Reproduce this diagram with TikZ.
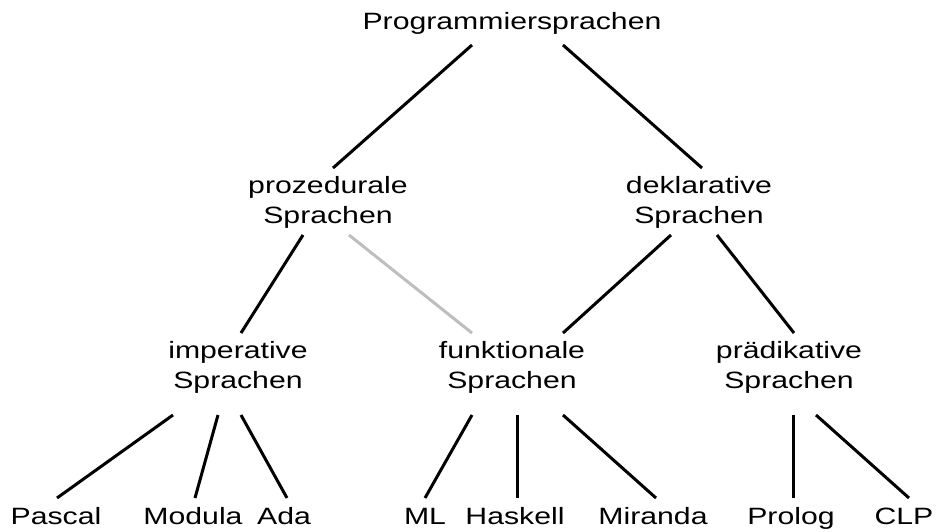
\documentclass[tikz,border=0pt]{standalone}
\usepackage{fontspec}
\setmainfont{Liberation Sans}[FakeStretch=1.28]
\begin{document}
\begin{tikzpicture}[x=1pt,y=-1pt,
  lbl/.style={inner sep=0pt,anchor=base,align=center,font=\fontsize{23.6}{29.5}\selectfont},
  edge/.style={line width=3pt,black},
  weak/.style={line width=3pt,color={rgb,255:red,190;green,190;blue,190}}]
\useasboundingbox (0,0) rectangle (938,531);
\node[lbl] (prog) at (512,29) {Programmiersprachen};
\node[lbl] (proz) at (328,223) {prozedurale\\Sprachen};
\node[lbl] (dekl) at (699,223) {deklarative\\Sprachen};
\node[lbl] (imp) at (238,388) {imperative\\Sprachen};
\node[lbl] (funk) at (512,388) {funktionale\\Sprachen};
\node[lbl] (praed) at (789,388) {prädikative\\Sprachen};
\node[lbl] (pascal) at (56,524) {Pascal};
\node[lbl] (modula) at (193,524) {Modula};
\node[lbl] (ada) at (284,524) {Ada};
\node[lbl] (ml) at (425,524) {ML};
\node[lbl] (haskell) at (515,524) {Haskell};
\node[lbl] (miranda) at (653,524) {Miranda};
\node[lbl] (prolog) at (791,524) {Prolog};
\node[lbl] (clp) at (904,524) {CLP};
\draw[edge] ([shift={(-40,16)}]prog.base) -- ([shift={(5,-55)}]proz.base);
\draw[edge] ([shift={(51,16)}]prog.base) -- ([shift={(3,-55)}]dekl.base);
\draw[edge] ([shift={(-25,12)}]proz.base) -- ([shift={(3,-55)}]imp.base);
\draw[weak] ([shift={(21,12)}]proz.base) -- ([shift={(-40,-55)}]funk.base);
\draw[edge] ([shift={(-28,12)}]dekl.base) -- ([shift={(51,-55)}]funk.base);
\draw[edge] ([shift={(18,12)}]dekl.base) -- ([shift={(5,-55)}]praed.base);
\draw[edge] ([shift={(-65,27)}]imp.base) -- ([shift={(1,-26)}]pascal.base);
\draw[edge] ([shift={(-20,27)}]imp.base) -- ([shift={(2,-26)}]modula.base);
\draw[edge] ([shift={(3,27)}]imp.base) -- ([shift={(3,-26)}]ada.base);
\draw[edge] ([shift={(-40,27)}]funk.base) -- ([shift={(0,-26)}]ml.base);
\draw[edge] ([shift={(5,27)}]funk.base) -- ([shift={(2,-26)}]haskell.base);
\draw[edge] ([shift={(51,27)}]funk.base) -- ([shift={(3,-26)}]miranda.base);
\draw[edge] ([shift={(4,27)}]praed.base) -- ([shift={(2,-26)}]prolog.base);
\draw[edge] ([shift={(27,27)}]praed.base) -- ([shift={(5,-26)}]clp.base);
\end{tikzpicture}
\end{document}
